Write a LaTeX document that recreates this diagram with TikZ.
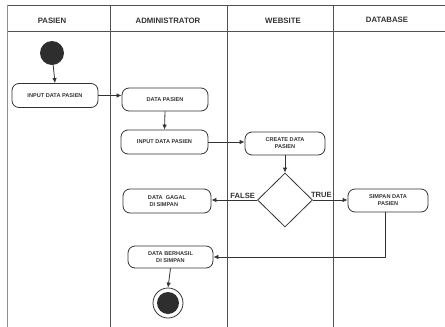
\documentclass[tikz,border=0pt]{standalone}
\usepackage{fontspec}
\setmainfont{Liberation Sans}
\usetikzlibrary{shapes.geometric,arrows.meta}
\definecolor{ln}{HTML}{333333}
\tikzset{
  frame/.style={draw=ln!85, line width=1pt},
  act/.style={draw=ln, line width=0.8pt, rounded corners=7pt, inner sep=0pt,
    font=\bfseries\fontsize{5.6}{7}\selectfont, text=ln, align=center},
  dec/.style={draw=ln, line width=0.8pt, diamond, inner sep=0pt, minimum width=55pt, minimum height=54pt},
  flow/.style={draw=ln, line width=0.8pt, -{Latex[length=5pt,width=4.5pt]}},
  lab/.style={font=\bfseries\fontsize{7.6}{9}\selectfont, text=ln, inner sep=0pt},
  head/.style={font=\bfseries\fontsize{7.8}{9}\selectfont, text=ln, inner sep=0pt}
}
\begin{document}
\begin{tikzpicture}[x=1pt,y=-1pt]
\useasboundingbox (0,0) rectangle (445,327);
% frame
\draw[frame] (7,5) -- (445,5);
\draw[frame] (7,31) -- (445,31);
\draw[frame, draw=ln!55] (7,5) -- (7,327);
\draw[frame] (110,5) -- (110,327);
\draw[frame] (227,5) -- (227,327);
\draw[frame] (333,5) -- (333,327);
% headers
\node[head] (h1) at (52,20.5) {PASIEN};
\node[head] (h2) at (168,20.5) {ADMINISTRATOR};
\node[head] (h3) at (283,20.5) {WEBSITE};
\node[head] (h4) at (387,19.5) {DATABASE};
% start and end
\node[circle, fill=ln!90!black, minimum size=24pt, inner sep=0pt] (start) at (52,53) {};
\node[circle, draw=ln, line width=0.8pt, minimum size=30pt, inner sep=0pt] (end) at (168,303) {};
\node[circle, fill=ln!90!black, minimum size=22pt, inner sep=0pt] (endin) at (end.center) {};
% activities
\node[act, minimum width=86pt, minimum height=24pt] (p1) at (55,95.5) {INPUT DATA PASIEN};
\node[act, minimum width=86pt, minimum height=23pt] (a1) at (165,99.5) {DATA PASIEN};
\node[act, minimum width=87pt, minimum height=24pt] (a2) at (164.5,142) {INPUT DATA PASIEN};
\node[act, minimum width=80pt, minimum height=23pt] (w1) at (285,143.5) {CREATE DATA\\PASIEN};
\node[dec] (d) at (285,200) {};
\node[act, minimum width=88pt, minimum height=24pt, align=left] (a3) at (167,201) {DATA\ \ GAGAL\\\ DI SIMPAN\hspace{6pt}};
\node[act, minimum width=80pt, minimum height=23pt] (db) at (388,200.5) {SIMPAN DATA\\PASIEN};
\node[act, minimum width=85pt, minimum height=22pt] (a4) at (170.5,257) {DATA BERHASIL\\DI SIMPAN};
% flows
\draw[flow] (start) -- (p1.north);
\draw[flow] (p1.east) -- (p1.east -| a1.west);
\draw[flow] (a1.south) -- (a2.north);
\draw[flow] (a2.east) -- (a2.east -| w1.west);
\draw[flow] (w1.south) -- (d.north);
\draw[flow] (d.west) -- (d.west -| a3.east);
\draw[flow] (d.east) -- (d.east -| db.west);
\draw[flow] ([xshift=-3pt]db.south) |- (a4.east);
\draw[flow] (a4.south) -- (end.north);
% labels
\node[lab, anchor=south east] (lf) at ([xshift=-2pt,yshift=1.5pt]d.west) {FALSE};
\node[lab, anchor=south west] (lt) at ([xshift=-2pt,yshift=2.5pt]d.east) {TRUE};
\end{tikzpicture}
\end{document}
